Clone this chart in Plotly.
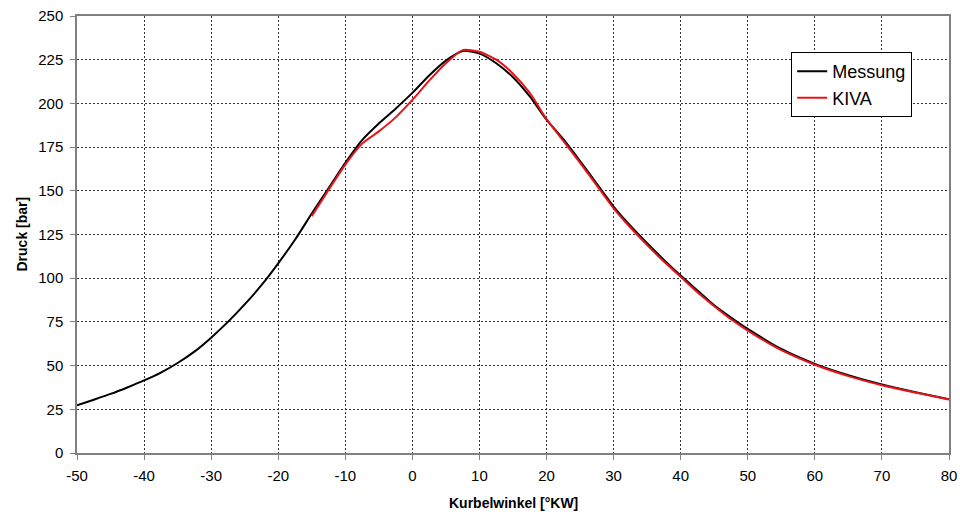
import plotly.graph_objects as go

# Messung (measurement)
x_mess = [-50, -47.5, -45, -42.5, -40, -37.5, -35, -32.5, -30, -27.5, -25, -22.5, -20, -17.5,
          -15, -12.5, -10, -7.5, -5, -2.5, 0, 2.5, 5, 7.5, 10, 12.5, 15, 17.5, 20, 22.5, 25,
          27.5, 30, 32.5, 35, 37.5, 40, 42.5, 45, 47.5, 50, 55, 60, 65, 70, 75, 80]
y_mess = [27.3, 30.5, 33.8, 37.5, 41.5, 46, 51.5, 58, 66, 75, 85, 96, 108.5, 122,
          137, 151.5, 166, 179, 188.5, 197, 206, 216, 224.5, 230, 228.5, 223, 215, 204, 190.7, 179.5, 167,
          154, 141, 130, 120, 110.5, 101.5, 93, 84.5, 77.5, 71, 59.5, 51, 44.5, 39.2, 34.8, 30.8]

# KIVA (simulation)
x_kiva = [-15, -12.5, -10, -7.5, -5, -2.5, 0, 2.5, 5, 7.5, 10, 12.5, 15, 17.5, 20, 22.5, 25,
          27.5, 30, 32.5, 35, 37.5, 40, 42.5, 45, 47.5, 50, 55, 60, 65, 70, 75, 80]
y_kiva = [135.5, 150.5, 165, 177, 184, 192, 202, 213, 223, 230.5, 229.5, 225, 217, 206, 191, 178.5, 166,
          153, 140, 129, 119, 109.5, 100.8, 92, 84, 76.5, 70, 58.8, 50.5, 44, 38.8, 34.6, 30.6]

x_ticks = [-50, -40, -30, -20, -10, 0, 10, 20, 30, 40, 50, 60, 70, 80]
x_ticktext = ["-50", "-40", "-30", "-20", "-10", "0", "10", "20", "30", "40", "50", "60", "70", "80"]
y_ticks = [0, 25, 50, 75, 100, 125, 150, 175, 200, 225, 250]
y_ticktext = ["0", "25", "50", "75", "100", "125", "150", "175", "200", "225", "250"]

x_title = "Kurbelwinkel [°KW]"
y_title = "Druck [bar]"

fig = go.Figure()
fig.add_trace(go.Scatter(x=x_mess, y=y_mess, mode="lines", name="Messung",
                         line=dict(color="black", width=2, shape="spline", smoothing=0.6)))
fig.add_trace(go.Scatter(x=x_kiva, y=y_kiva, mode="lines", name="KIVA",
                         line=dict(color="#e8141b", width=2, shape="spline", smoothing=0.6)))

font_family = "Liberation Sans, Arial, sans-serif"
axis_common = dict(ticks="outside", ticklen=5, tickcolor="#808080",
                   showline=True, linecolor="#808080", linewidth=1.5, mirror=True,
                   showgrid=True, gridcolor="#333333", gridwidth=1, griddash="2px,2px",
                   zeroline=False, automargin=False, tickfont=dict(size=15))

fig.update_layout(
    width=960, height=516,
    margin=dict(l=77, r=11, t=16, b=63),
    paper_bgcolor="white", plot_bgcolor="white",
    font=dict(family=font_family, size=14, color="black"),
    legend=dict(x=0.819, y=0.9175, xanchor="left", yanchor="top",
                bordercolor="black", borderwidth=1, bgcolor="white",
                font=dict(size=18), itemwidth=30, tracegroupgap=0),
    xaxis=dict(range=[-50, 80], tickvals=x_ticks, ticktext=x_ticktext,
               ticklabelstandoff=3, **axis_common),
    yaxis=dict(range=[0, 250], tickvals=y_ticks, ticktext=y_ticktext,
               ticklabelstandoff=4, **axis_common),
    annotations=[
        dict(text="<b>" + x_title + "</b>", xref="paper", yref="paper",
             x=0.5, y=0, yshift=-50, xanchor="center", yanchor="middle",
             showarrow=False, font=dict(size=14)),
        dict(text="<b>" + y_title + "</b>", xref="paper", yref="paper",
             x=0, y=0.5, xshift=-56, xanchor="center", yanchor="middle",
             textangle=-90, showarrow=False, font=dict(size=14)),
    ],
)

fig.write_html("out.html", config={"displayModeBar": False},
               post_script="document.body.style.margin='0';document.body.style.overflow='hidden';")
